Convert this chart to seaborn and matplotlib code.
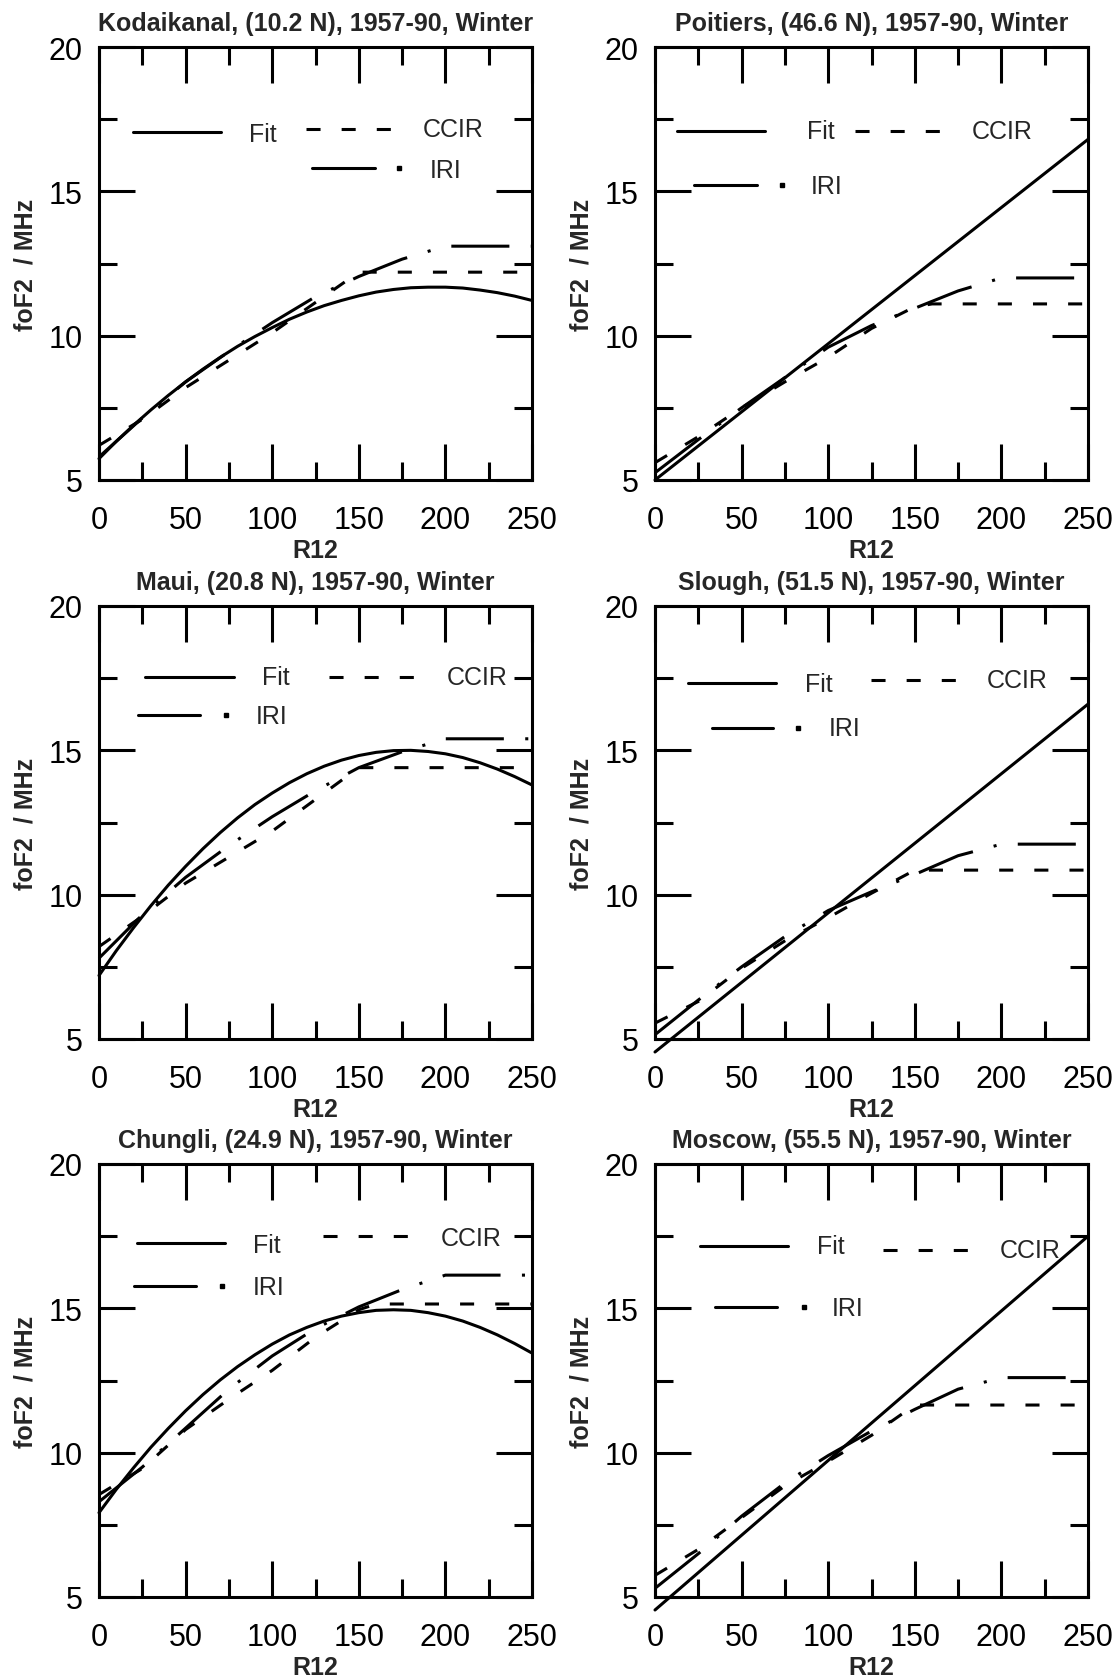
import pandas as pd
import matplotlib
matplotlib.use("Agg")
import matplotlib.pyplot as plt
from matplotlib.ticker import MultipleLocator
import seaborn as sns

# ----------------------------- DATA -----------------------------
# R12 grid for the curved fits
R_FIT = [0, 10, 20, 30, 40, 50, 60, 70, 80, 90, 100, 110, 120, 130, 140, 150,
         160, 170, 180, 190, 200, 210, 220, 230, 240, 250]
R_LIN = [0, 250]

# Kodaikanal
kod_fit = [5.74, 6.34, 6.90, 7.43, 7.93, 8.40, 8.84, 9.25, 9.63, 9.97, 10.28, 10.57, 10.82,
           11.04, 11.22, 11.38, 11.51, 11.60, 11.66, 11.68, 11.68, 11.65, 11.58, 11.49, 11.37, 11.22]
kod_ccir_r = [0, 25, 50, 75, 100, 125, 150, 250]
kod_ccir = [6.2, 7.1, 8.2, 9.15, 10.1, 11.15, 12.2, 12.2]
kod_iri_r = [0, 25, 50, 75, 100, 125, 150, 175, 200, 250]
kod_iri = [5.8, 7.15, 8.4, 9.45, 10.45, 11.35, 12.05, 12.65, 13.1, 13.1]

# Poitiers
poi_fit = [5.0, 16.8]
poi_ccir_r = [0, 25, 50, 75, 100, 125, 150, 160, 250]
poi_ccir = [5.6, 6.5, 7.5, 8.4, 9.25, 10.25, 11.0, 11.1, 11.1]
poi_iri_r = [0, 25, 50, 75, 100, 125, 150, 175, 200, 250]
poi_iri = [5.25, 6.4, 7.5, 8.55, 9.6, 10.35, 10.95, 11.55, 12.0, 12.0]

# Maui
mau_fit = [7.20, 8.06, 8.86, 9.62, 10.33, 10.98, 11.59, 12.15, 12.66, 13.12, 13.52, 13.88, 14.19,
           14.45, 14.66, 14.82, 14.93, 14.99, 15.00, 14.96, 14.88, 14.75, 14.57, 14.35, 14.09, 13.80]
mau_ccir_r = [0, 25, 50, 75, 100, 125, 150, 250]
mau_ccir = [8.2, 9.25, 10.4, 11.3, 12.2, 13.3, 14.4, 14.4]
mau_iri_r = [0, 25, 50, 75, 100, 125, 150, 175, 200, 250]
mau_iri = [7.8, 9.3, 10.6, 11.7, 12.7, 13.6, 14.4, 14.95, 15.4, 15.4]

# Slough
slo_fit = [4.55, 16.6]
slo_ccir_r = [0, 25, 50, 75, 100, 125, 150, 250]
slo_ccir = [5.55, 6.3, 7.45, 8.4, 9.2, 10.05, 10.85, 10.85]
slo_iri_r = [0, 25, 50, 75, 100, 125, 150, 175, 200, 250]
slo_iri = [5.15, 6.35, 7.5, 8.55, 9.45, 10.1, 10.7, 11.35, 11.75, 11.75]

# Chungli
chu_fit = [7.92, 8.73, 9.48, 10.19, 10.84, 11.45, 12.01, 12.52, 12.98, 13.39, 13.76, 14.08, 14.34,
           14.56, 14.73, 14.85, 14.93, 14.95, 14.93, 14.85, 14.73, 14.56, 14.34, 14.08, 13.78, 13.45]
chu_ccir_r = [0, 25, 50, 75, 100, 125, 150, 160, 250]
chu_ccir = [8.55, 9.45, 10.8, 11.85, 12.85, 14.0, 14.95, 15.15, 15.15]
chu_iri_r = [0, 25, 50, 75, 100, 125, 150, 175, 200, 250]
chu_iri = [8.3, 9.5, 10.85, 12.2, 13.35, 14.3, 15.05, 15.65, 16.15, 16.15]

# Moscow
mos_fit = [4.55, 17.5]
mos_ccir_r = [0, 25, 50, 75, 100, 125, 150, 250]
mos_ccir = [5.75, 6.65, 7.75, 8.85, 9.7, 10.6, 11.65, 11.65]
mos_iri_r = [0, 25, 50, 75, 100, 125, 150, 175, 200, 250]
mos_iri = [5.3, 6.5, 7.8, 8.95, 9.9, 10.75, 11.5, 12.2, 12.6, 12.6]

titles = [
    "Kodaikanal, (10.2 N), 1957-90, Winter",
    "Poitiers, (46.6 N), 1957-90, Winter",
    "Maui, (20.8 N), 1957-90, Winter",
    "Slough, (51.5 N), 1957-90, Winter",
    "Chungli, (24.9 N), 1957-90, Winter",
    "Moscow, (55.5 N), 1957-90, Winter",
]

panels = [
    (R_FIT, kod_fit, kod_ccir_r, kod_ccir, kod_iri_r, kod_iri),
    (R_LIN, poi_fit, poi_ccir_r, poi_ccir, poi_iri_r, poi_iri),
    (R_FIT, mau_fit, mau_ccir_r, mau_ccir, mau_iri_r, mau_iri),
    (R_LIN, slo_fit, slo_ccir_r, slo_ccir, slo_iri_r, slo_iri),
    (R_FIT, chu_fit, chu_ccir_r, chu_ccir, chu_iri_r, chu_iri),
    (R_LIN, mos_fit, mos_ccir_r, mos_ccir, mos_iri_r, mos_iri),
]

# legend key layout (data coords): fit line, fit text, ccir line, ccir text, iri line, iri dot, iri text
legend_layout = [
    dict(fit=(19.6, 70.2, 17.05), fit_t=(86.8, 17.0), ccir=(119.4, 170.5, 17.17), ccir_t=(187, 17.15),
         iri=(122.9, 159.1, 15.81), dot=173.1, iri_t=(191.1, 15.75)),
    dict(fit=(12.6, 63.5, 17.1), fit_t=(88, 17.1), ccir=(115.7, 166, 17.1), ccir_t=(182.6, 17.1),
         iri=(22.6, 58.8, 15.21), dot=73.2, iri_t=(90, 15.18)),
    dict(fit=(26.7, 78.2, 17.55), fit_t=(94, 17.55), ccir=(133, 184, 17.55), ccir_t=(200.6, 17.55),
         iri=(22.6, 58.6, 16.24), dot=73.5, iri_t=(90.5, 16.2)),
    dict(fit=(18.9, 69.9, 17.33), fit_t=(86.4, 17.3), ccir=(124.5, 175.3, 17.45), ccir_t=(191.8, 17.45),
         iri=(32.9, 68.3, 15.79), dot=82.7, iri_t=(100.4, 15.77)),
    dict(fit=(21.9, 72.9, 17.28), fit_t=(89.2, 17.2), ccir=(129.6, 180.2, 17.49), ccir_t=(197.5, 17.45),
         iri=(20.4, 55.8, 15.79), dot=70.8, iri_t=(88.5, 15.75)),
    dict(fit=(26.2, 76.9, 17.16), fit_t=(93.4, 17.16), ccir=(131.6, 182.2, 17.03), ccir_t=(198.8, 17.03),
         iri=(34.9, 70.7, 15.04), dot=86.2, iri_t=(102, 15.0)),
]

LW = 2.2
CCIR_DASH = (4.6, 6.9)
IRI_DASH = (19, 7, 1, 7)
DASHES = {"Fit": "", "CCIR": CCIR_DASH, "IRI": IRI_DASH}

# ----------------------------- STYLE -----------------------------
sns.set_theme(style="white")
plt.rcParams["font.family"] = ["Liberation Sans", "DejaVu Sans"]

fig = plt.figure(figsize=(11.2, 16.81), dpi=100)

col_x = [99 / 1120, 655 / 1120]
row_y = [1200 / 1681, 641 / 1681, 83 / 1681]
w, h = 433 / 1120, 433 / 1681

# ----------------------------- PANELS -----------------------------
for i, (r_fit, fit, r_ccir, ccir, r_iri, iri) in enumerate(panels):
    ax = fig.add_axes([col_x[i % 2], row_y[i // 2], w, h])

    df = pd.concat([
        pd.DataFrame({"R12": r_fit, "foF2": fit, "model": "Fit"}),
        pd.DataFrame({"R12": r_ccir, "foF2": ccir, "model": "CCIR"}),
        pd.DataFrame({"R12": r_iri, "foF2": iri, "model": "IRI"}),
    ], ignore_index=True)

    sns.lineplot(data=df, x="R12", y="foF2", style="model", dashes=DASHES,
                 color="black", linewidth=LW, estimator=None, sort=False,
                 legend=False, ax=ax, clip_on=False)

    # hand-drawn legend like the original
    lay = legend_layout[i]
    x1, x2, y = lay["fit"]
    ax.plot([x1, x2], [y, y], color="black", lw=LW)
    ax.text(*lay["fit_t"], "Fit", fontsize=18, va="center", ha="left")
    x1, x2, y = lay["ccir"]
    ax.plot([x1, x2], [y, y], color="black", lw=LW, ls=(0, CCIR_DASH))
    ax.text(*lay["ccir_t"], "CCIR", fontsize=18, va="center", ha="left")
    x1, x2, y = lay["iri"]
    ax.plot([x1, x2], [y, y], color="black", lw=LW)
    ax.plot([lay["dot"]], [y], color="black", marker="s", ms=2.6, ls="none")
    ax.text(*lay["iri_t"], "IRI", fontsize=18, va="center", ha="left")

    ax.set_xlim(0, 250)
    ax.set_ylim(5, 20)
    ax.set_xticks([0, 50, 100, 150, 200, 250])
    ax.set_yticks([5, 10, 15, 20])
    ax.xaxis.set_minor_locator(MultipleLocator(25))
    ax.yaxis.set_minor_locator(MultipleLocator(2.5))
    ax.tick_params(which="both", direction="in", bottom=True, left=True, top=True, right=True,
                   width=LW, color="black", labelsize=22, labelcolor="black")
    ax.tick_params(which="major", length=26)
    ax.tick_params(which="minor", length=13)
    ax.tick_params(axis="x", pad=18)
    ax.tick_params(axis="y", pad=12)
    for sp in ax.spines.values():
        sp.set_linewidth(LW)
        sp.set_color("black")

    ax.set_title(titles[i], fontsize=18, fontweight="bold", pad=12.5)
    ax.set_xlabel("R12", fontsize=18, fontweight="bold", labelpad=2)
    ax.set_ylabel("foF2  / MHz", fontsize=18, fontweight="bold", labelpad=8)

fig.savefig("out.png", dpi=100, facecolor="white")
plt.close(fig)
